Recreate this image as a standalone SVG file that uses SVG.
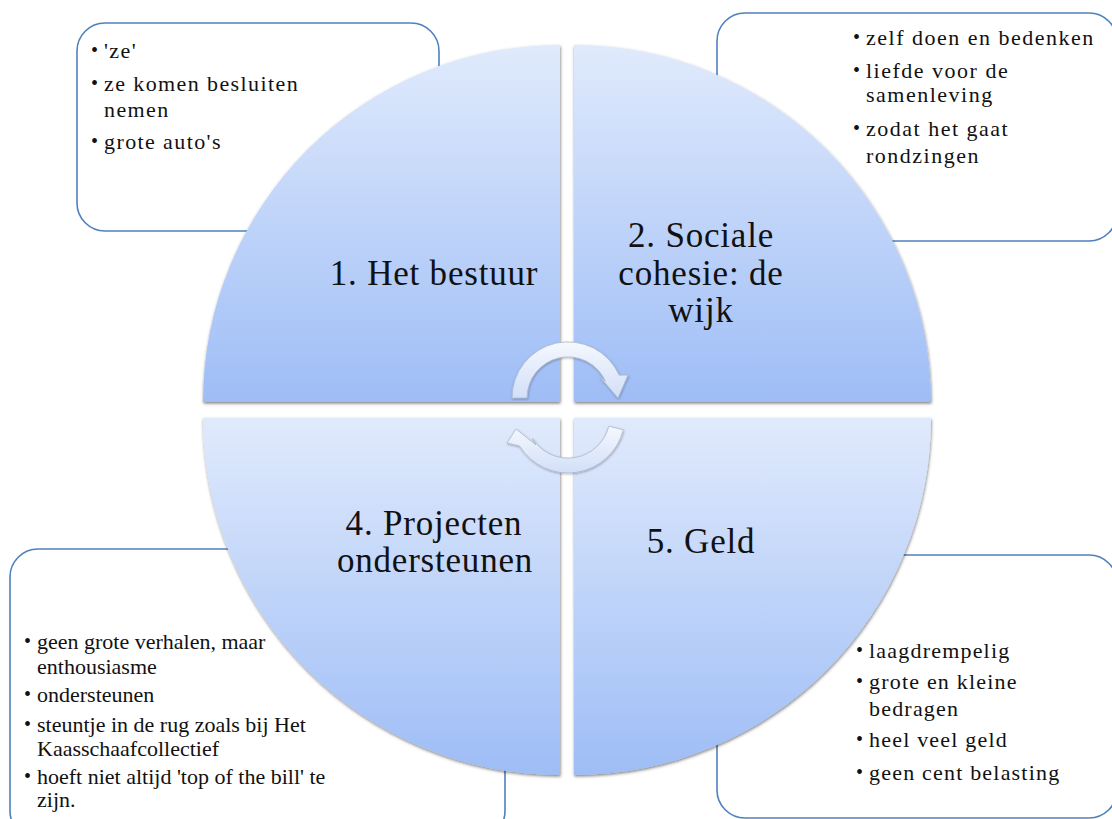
<svg xmlns="http://www.w3.org/2000/svg" width="1112" height="819" viewBox="0 0 1112 819">
  <defs>
    <linearGradient id="quadFill" x1="0" y1="0" x2="0" y2="1">
      <stop offset="0" stop-color="#e0eafc"/>
      <stop offset="1" stop-color="#9ebdf6"/>
    </linearGradient>
    <linearGradient id="arrowFill" x1="0" y1="0" x2="0" y2="1">
      <stop offset="0" stop-color="#f5f8fe"/>
      <stop offset="1" stop-color="#d2dff8"/>
    </linearGradient>
    <filter id="softShadow" x="-10%" y="-10%" width="120%" height="120%">
      <feDropShadow dx="0.5" dy="1.5" stdDeviation="1.4" flood-color="#000" flood-opacity="0.5"/>
    </filter>
    <filter id="arrowShadow" x="-20%" y="-20%" width="140%" height="140%">
      <feDropShadow dx="0.5" dy="1" stdDeviation="1" flood-color="#000" flood-opacity="0.3"/>
    </filter>
  </defs>
  <style>
    .box { fill: #ffffff; stroke: #4f81bd; stroke-width: 1.6; }
    .quad { fill: url(#quadFill); filter: url(#softShadow); }
    .arrow { fill: url(#arrowFill); stroke: #aeb9cc; stroke-width: 0.8; filter: url(#arrowShadow); }
    .item { font-family: "Liberation Serif", "Times New Roman", serif; font-size: 22px; fill: #111; }
    .dot { font-family: "Liberation Serif", "Times New Roman", serif; font-size: 20px; fill: #111; }
    .label { font-family: "Liberation Serif", "Times New Roman", serif; font-size: 35px; fill: #111; text-anchor: middle; letter-spacing: 0.8px; }
  </style>

  <rect width="1112" height="819" fill="#ffffff"/>

  <!-- text boxes behind the circle -->
  <g id="box-bestuur">
    <rect class="box" x="77" y="23" width="362" height="208" rx="28"/>
    <g class="item" style="letter-spacing:1.4px">
      <text x="104" y="58">'ze'</text>
      <text x="104" y="91">ze komen besluiten</text>
      <text x="104" y="117">nemen</text>
      <text x="104" y="149">grote auto's</text>
    </g>
    <g class="dot">
      <text x="91" y="57">•</text>
      <text x="91" y="90">•</text>
      <text x="91" y="148">•</text>
    </g>
  </g>

  <g id="box-cohesie">
    <rect class="box" x="717" y="13" width="400" height="228" rx="28"/>
    <g class="item" style="letter-spacing:1.5px">
      <text x="866" y="45">zelf doen en bedenken</text>
      <text x="866" y="78">liefde voor de</text>
      <text x="866" y="102">samenleving</text>
      <text x="866" y="136">zodat het gaat</text>
      <text x="866" y="163">rondzingen</text>
    </g>
    <g class="dot">
      <text x="853" y="44">•</text>
      <text x="853" y="77">•</text>
      <text x="853" y="135">•</text>
    </g>
  </g>

  <g id="box-projecten">
    <rect class="box" x="10" y="549" width="495" height="290" rx="28"/>
    <g class="item">
      <text x="37" y="649">geen grote verhalen, maar</text>
      <text x="37" y="674">enthousiasme</text>
      <text x="37" y="702">ondersteunen</text>
      <text x="37" y="732">steuntje in de rug zoals bij Het</text>
      <text x="37" y="756">Kaasschaafcollectief</text>
      <text x="37" y="784">hoeft niet altijd 'top of the bill' te</text>
      <text x="37" y="807">zijn.</text>
    </g>
    <g class="dot">
      <text x="24" y="648">•</text>
      <text x="24" y="701">•</text>
      <text x="24" y="731">•</text>
      <text x="24" y="783">•</text>
    </g>
  </g>

  <g id="box-geld">
    <rect class="box" x="717" y="555" width="400" height="263" rx="28"/>
    <g class="item" style="letter-spacing:1.2px">
      <text x="869" y="658">laagdrempelig</text>
      <text x="869" y="689">grote en kleine</text>
      <text x="869" y="716">bedragen</text>
      <text x="869" y="747">heel veel geld</text>
      <text x="869" y="780">geen cent belasting</text>
    </g>
    <g class="dot">
      <text x="856" y="657">•</text>
      <text x="856" y="688">•</text>
      <text x="856" y="746">•</text>
      <text x="856" y="779">•</text>
    </g>
  </g>

  <!-- four quadrants of the cycle -->
  <g id="node-bestuur">
    <path class="quad" d="M560,402 L203,402 A357,357 0 0 1 560,45 Z"/>
    <text class="label" x="434" y="285">1. Het bestuur</text>
  </g>
  <g id="node-cohesie">
    <path class="quad" d="M574,402 L574,45 A357,357 0 0 1 931,402 Z"/>
    <text class="label" x="701" y="247">2. Sociale</text>
    <text class="label" x="701" y="285">cohesie: de</text>
    <text class="label" x="701" y="322">wijk</text>
  </g>
  <g id="node-projecten">
    <path class="quad" d="M560,418 L560,775 A357,357 0 0 1 203,418 Z"/>
    <text class="label" x="434" y="535">4. Projecten</text>
    <text class="label" x="435" y="572">ondersteunen</text>
  </g>
  <g id="node-geld">
    <path class="quad" d="M574,418 L931,418 A357,357 0 0 1 574,775 Z"/>
    <text class="label" x="701" y="553">5. Geld</text>
  </g>

  <!-- circular arrows in the centre -->
  <g id="connectors">
    <path class="arrow" d="M512,398 A56,56 0 0 1 619.2,375.2 L628,375 L618,398 L600,377 L605.5,381.3 A41,41 0 0 0 527,398 Z"/>
    <path class="arrow" d="M623.3,429.8 A57,57 0 0 1 519.6,446 L507,443 L516,429 L536,445 L532.4,438.3 A42,42 0 0 0 608.8,426.2 Z"/>
  </g>
</svg>
